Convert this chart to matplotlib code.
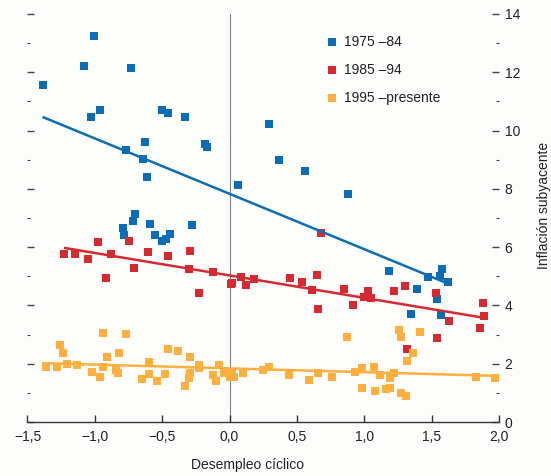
import matplotlib
matplotlib.use('Agg')
import matplotlib.pyplot as plt
import numpy as np
from matplotlib.ticker import MultipleLocator, FuncFormatter

plt.rcParams['font.family'] = ['Liberation Sans Narrow', 'Liberation Sans', 'DejaVu Sans']

# --- datos ---
x_7584 = [-1.385, -1.08, -1.01, -0.73, -1.03, -0.96, -0.77, -0.63, -0.64, -0.61,
          -0.50, -0.46, -0.33, -0.185, -0.17, 0.06, 0.29, 0.37, 0.56, 0.88,
          -0.70, -0.72, -0.79, -0.78, -0.59, -0.55, -0.50, -0.47, -0.44, -0.28,
          1.18, 1.47, 1.58, 1.56, 1.62, 1.39, 1.54, 1.35, 1.57]
y_7584 = [11.55, 12.2, 13.26, 12.16, 10.45, 10.69, 9.35, 9.62, 9.04, 8.42,
          10.69, 10.62, 10.48, 9.55, 9.45, 8.14, 10.24, 9.0, 8.63, 7.83,
          7.15, 6.9, 6.65, 6.43, 6.78, 6.43, 6.2, 6.29, 6.45, 6.77,
          5.19, 4.96, 5.25, 5.0, 4.82, 4.56, 4.22, 3.71, 3.66]

x_8594 = [-1.23, -1.15, -1.05, -0.975, -0.92, -0.88, -0.745, -0.71, -0.605, -0.46,
          -0.296, -0.30, -0.12, -0.23, 0.01, 0.02, 0.087, 0.12, 0.18, 0.45,
          0.54, 0.61, 0.65, 0.66, 0.68, 0.85, 0.92, 1.0, 1.03, 1.05,
          1.22, 1.30, 1.53, 1.63, 1.54, 1.32, 1.88, 1.89, 1.86]
y_8594 = [5.76, 5.77, 5.6, 6.18, 4.94, 5.76, 6.2, 5.29, 5.83, 5.71,
          5.88, 5.26, 5.16, 4.44, 4.74, 4.76, 4.99, 4.71, 4.9, 4.94,
          4.8, 4.54, 5.05, 3.89, 6.48, 4.55, 4.0, 4.3, 4.51, 4.25,
          4.48, 4.67, 4.42, 3.47, 2.88, 2.52, 4.08, 3.65, 3.22]

x_95p = [-1.36, -1.28, -1.26, -1.24, -1.21, -1.13, -1.02, -0.96, -0.94, -0.91,
         -0.94, -0.845, -0.83, -0.82, -0.77, -0.60, -0.65, -0.60, -0.535, -0.48,
         -0.457, -0.383, -0.296, -0.23, -0.23, -0.29, -0.30, -0.33, -0.08, -0.12,
         -0.10, -0.04, 0.0, 0.03, 0.02, 0.10, 0.25, 0.29, 0.44, 0.59,
         0.66, 0.76, 0.87, 0.93, 0.98, 0.98, 1.08, 1.07, 1.12, 1.16,
         1.19, 1.19, 1.22, 1.26, 1.27, 1.27, 1.31, 1.32, 1.365, 1.41,
         1.83, 1.97]
y_95p = [1.90, 1.90, 2.65, 2.36, 1.98, 1.94, 1.70, 1.53, 3.05, 2.22,
         1.88, 1.79, 1.69, 2.36, 3.01, 2.05, 1.47, 1.64, 1.41, 1.65,
         2.51, 2.42, 2.24, 1.96, 1.84, 1.67, 1.50, 1.24, 1.96, 1.62,
         1.42, 1.67, 1.53, 1.53, 1.73, 1.67, 1.79, 1.88, 1.62, 1.44,
         1.67, 1.53, 2.93, 1.73, 1.87, 1.18, 1.08, 1.90, 1.60, 1.12,
         1.17, 1.52, 1.67, 3.16, 2.93, 0.99, 0.89, 2.1, 2.38, 3.1,
         1.53, 1.50]

# rectas de tendencia: (ordenada, pendiente, x inicio, x fin)
fit_7584 = (7.83, -1.90, -1.38, 1.61)
fit_8594 = (5.03, -0.77, -1.22, 1.89)
fit_95p = (1.84, -0.13, -1.38, 2.0)

series = [
    ('1975 \u201384', x_7584, y_7584, fit_7584, '#0b6db5'),
    ('1985 \u201394', x_8594, y_8594, fit_8594, '#d62a32'),
    ('1995 \u2013presente', x_95p, y_95p, fit_95p, '#fdb040'),
]

fig = plt.figure(figsize=(5.51, 4.76), dpi=100)
fig.patch.set_facecolor('#fdfdfb')
ax = fig.add_axes([0.0499, 0.1134, 0.8557, 0.8572])
ax.set_facecolor('#fdfdfb')

ax.axvline(0, color='#808080', lw=0.8, zorder=1)

for nom, xs, ys, fit, col in series:
    ax.scatter(xs, ys, marker='s', s=34, color=col, linewidths=0, label=nom, zorder=3)
for nom, xs, ys, fit, col in series:
    b, m, x0, x1 = fit
    xx = np.array([x0, x1])
    ax.plot(xx, b + m * xx, color=col, lw=1.8, zorder=4)

ax.set_xlim(-1.5, 2.0)
ax.set_ylim(0, 14)

for s in ['top', 'left', 'right']:
    ax.spines[s].set_visible(False)
ax.spines['bottom'].set_color('#333333')
ax.spines['bottom'].set_linewidth(1.0)

ax.xaxis.set_major_locator(MultipleLocator(0.5))
ax.xaxis.set_major_formatter(FuncFormatter(lambda v, p: ('%.1f' % v).replace('.', ',').replace('-', '\u2212')))
ax.tick_params(axis='x', direction='in', length=5, width=1.0, color='#333333',
               labelsize=10, pad=6, labelcolor='#222222')

ax.yaxis.set_major_locator(MultipleLocator(2))
ax.yaxis.set_minor_locator(MultipleLocator(1))
ax.tick_params(axis='y', which='both', direction='in', left=True, right=True,
               labelleft=False, labelright=True, color='#444444',
               labelsize=10, labelcolor='#222222', pad=4)
ax.tick_params(axis='y', which='major', length=5, width=1.0)
ax.tick_params(axis='y', which='minor', length=2.5, width=0.8)

ax.set_xlabel('Desempleo c\u00edclico', fontsize=10, color='#222222')
ax.xaxis.set_label_coords(0.466, -0.088)
ax.yaxis.set_label_position('right')
ax.set_ylabel('Inflaci\u00f3n subyacente', fontsize=10, color='#222222', rotation=90)
ax.yaxis.set_label_coords(1.08, 0.53)

leg = ax.legend(loc='upper left', bbox_to_anchor=(0.619, 0.962), frameon=False,
                fontsize=10, handletextpad=0.35, labelspacing=1.0,
                markerscale=0.95, handlelength=1.0, borderaxespad=0)
for t in leg.get_texts():
    t.set_color('#222222')

fig.savefig('out.png', dpi=100, facecolor=fig.get_facecolor())
